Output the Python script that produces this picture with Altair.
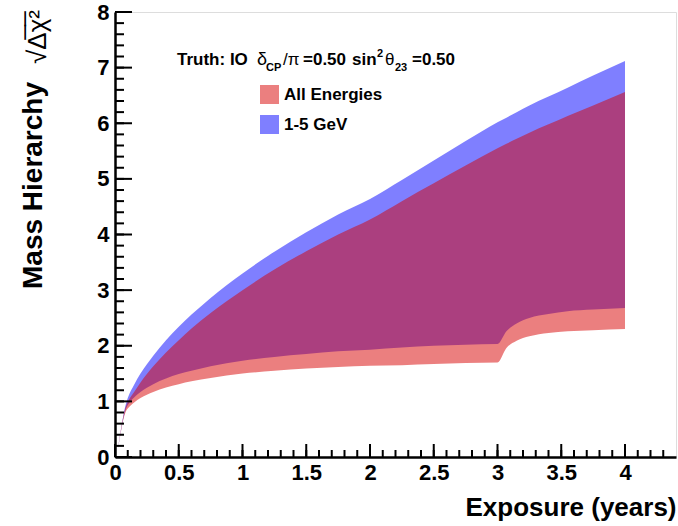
import altair as alt
import pandas as pd

# ---- data ----
exposure = [0.025, 0.085, 0.1, 0.15, 0.2, 0.3, 0.4, 0.5, 0.6, 0.75, 1.0, 1.25, 1.5, 1.75,
            2.0, 2.25, 2.5, 2.75, 3.0, 3.07, 3.15, 3.25, 3.4, 3.55, 3.75, 4.0]
# 1-5 GeV band
gev_hi = [0.17, 0.95, 1.06, 1.30, 1.50, 1.82, 2.10, 2.34, 2.56, 2.86, 3.30, 3.69, 4.04, 4.36,
          4.64, 4.98, 5.33, 5.68, 6.02, 6.10, 6.20, 6.32, 6.48, 6.64, 6.86, 7.12]
gev_lo = [0.16, 0.86, 0.93, 1.07, 1.17, 1.31, 1.41, 1.49, 1.55, 1.63, 1.73, 1.80, 1.85, 1.90,
          1.93, 1.97, 2.00, 2.02, 2.03, 2.26, 2.40, 2.50, 2.57, 2.62, 2.65, 2.68]
# All energies band
all_hi = [0.17, 0.91, 0.99, 1.17, 1.34, 1.63, 1.88, 2.10, 2.31, 2.59, 3.00, 3.37, 3.70, 4.00,
          4.27, 4.60, 4.92, 5.24, 5.55, 5.63, 5.72, 5.83, 5.98, 6.13, 6.32, 6.56]
all_lo = [0.16, 0.82, 0.87, 0.98, 1.06, 1.17, 1.25, 1.31, 1.36, 1.42, 1.50, 1.55, 1.59, 1.62,
          1.64, 1.65, 1.67, 1.69, 1.70, 1.96, 2.09, 2.17, 2.23, 2.26, 2.28, 2.30]

series_names = ["All Energies", "1-5 GeV"]
series_colors = ["#d70000", "#0000ff"]

x_major = [0, 0.5, 1, 1.5, 2, 2.5, 3, 3.5, 4]
x_minor = [round(i * 0.1, 1) for i in range(0, 44)]
y_major = [0, 1, 2, 3, 4, 5, 6, 7, 8]
y_minor = [round(i * 0.2, 1) for i in range(0, 41)]

W, H = 561, 445
FONT = "Liberation Sans"

df = pd.DataFrame({"x": exposure, "gev_lo": gev_lo, "gev_hi": gev_hi,
                   "all_lo": all_lo, "all_hi": all_hi})

xs = alt.Scale(domain=[0, 4.4], nice=False, zero=False)
ys = alt.Scale(domain=[0, 8], nice=False, zero=False)
cs = alt.Scale(domain=series_names, range=series_colors)

legend = alt.Legend(orient="none", legendX=145, legendY=73, title=None,
                    symbolType="square", symbolSize=361, symbolOpacity=0.5,
                    symbolStrokeWidth=0, labelFont=FONT, labelFontWeight="bold",
                    labelFontSize=17, labelColor="black", labelOffset=5,
                    rowPadding=11, padding=0)

axis_x = alt.Axis(values=x_major, ticks=False, tickSize=0, domain=True,
                  domainColor="black", domainWidth=2.5, grid=False,
                  labelFont=FONT, labelFontWeight="bold", labelFontSize=22,
                  labelColor="black", labelPadding=5, labelFlush=False,
                  format="~g",
                  title="Exposure (years)", titleFont=FONT, titleFontWeight="bold",
                  titleFontSize=26, titleColor="black", titleAnchor="end",
                  titleAlign="right", titleBaseline="alphabetic", titleX=W, titleY=58)
axis_y = alt.Axis(values=y_major, ticks=False, tickSize=0, domain=True,
                  domainColor="black", domainWidth=2.5, grid=False,
                  labelFont=FONT, labelFontWeight="bold", labelFontSize=22,
                  labelColor="black", labelPadding=6, labelFlush=False,
                  title="")

blue = alt.Chart(df).transform_calculate(series="'1-5 GeV'").mark_area(
    opacity=0.5, interpolate="monotone"
).encode(
    x=alt.X("x:Q", scale=xs, axis=axis_x),
    y=alt.Y("gev_lo:Q", scale=ys, axis=axis_y),
    y2="gev_hi:Q",
    color=alt.Color("series:N", scale=cs, legend=legend),
)

red = alt.Chart(df).transform_calculate(series="'All Energies'").mark_area(
    opacity=0.5, interpolate="monotone"
).encode(
    x=alt.X("x:Q", scale=xs, axis=axis_x),
    y=alt.Y("all_lo:Q", scale=ys, axis=axis_y),
    y2="all_hi:Q",
    color=alt.Color("series:N", scale=cs, legend=legend),
)


# inward-pointing axis ticks (ROOT style), positioned by the shared scales
def xticks(vals, size):
    return alt.Chart(pd.DataFrame({"v": vals})).mark_rule(
        color="black", strokeWidth=2
    ).encode(x=alt.X("v:Q", scale=xs, axis=axis_x),
             y=alt.value(H), y2=alt.value(H - size))


def yticks(vals, size):
    return alt.Chart(pd.DataFrame({"v": vals})).mark_rule(
        color="black", strokeWidth=2
    ).encode(y=alt.Y("v:Q", scale=ys, axis=axis_y),
             x=alt.value(0), x2=alt.value(size))


ticks = [xticks(x_minor, 7), xticks(x_major, 13), yticks(y_minor, 9), yticks(y_major, 17)]


def txt(s, x, y, size, weight="bold", angle=0, align="left"):
    kw = dict(font=FONT, fontSize=size, fontWeight=weight, color="black",
              align=align, baseline="alphabetic")
    if angle:
        kw["angle"] = angle
    return alt.Chart(pd.DataFrame({"t": [s]})).mark_text(**kw).encode(
        text="t:N", x=alt.value(x), y=alt.value(y))


texts = [
    txt("Mass Hierarchy", -73, 70, 28, angle=270, align="right"),
    txt("\u221a\u0394\u0305\u03c7\u0305\u00b2", -69, -2, 26, weight="normal", angle=270, align="right"),
    txt("Truth: IO", 62, 53, 17),
    txt("\u03b4", 142, 53, 18, weight="normal"),
    txt("CP", 151, 59, 11),
    txt("/\u03c0", 168, 53, 17, weight="normal"),
    txt("=0.50", 188, 53, 17),
    txt("sin", 237, 53, 17),
    txt("2", 262, 45, 11),
    txt("\u03b8", 270, 53, 17, weight="normal"),
    txt("23", 280, 59, 11),
    txt("=0.50", 297, 53, 17),
]

chart = alt.layer(blue, red, *ticks, *texts).properties(
    width=W, height=H,
    autosize=alt.AutoSizeParams(type="none"),
    padding={"left": 115, "top": 12, "right": 2, "bottom": 69},
).configure_view(stroke="black", strokeWidth=2).configure(background="white")

chart.save("out.html", embed_options={"renderer": "svg", "actions": False})
